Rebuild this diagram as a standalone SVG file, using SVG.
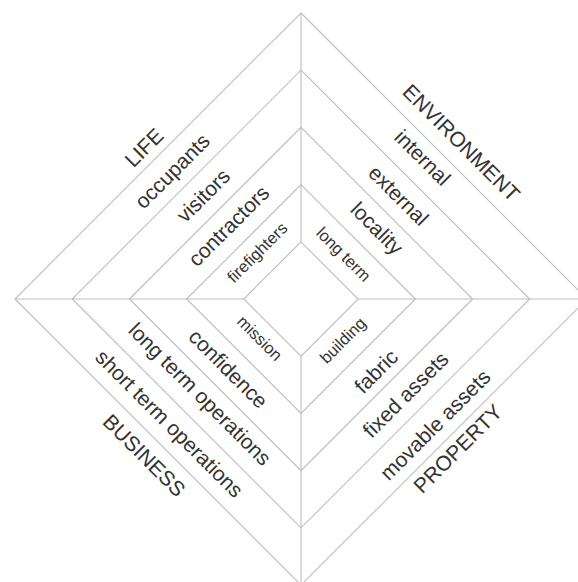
<svg xmlns="http://www.w3.org/2000/svg" width="578" height="582" viewBox="0 0 578 582">
<style>
.ln{fill:none;stroke:#bdbdbd;stroke-width:1.1}
text{font-family:"Liberation Sans",Arial,sans-serif;fill:#333;text-anchor:middle}
.b{font-size:21px}
.s{font-size:16.5px}
.c{font-size:21px}
</style>
<rect width="578" height="582" fill="#fff"/>
<g id="connectors">
<polygon class="ln" points="301,241.8 358.2,299 301,356.2 243.8,299"/>
<polygon class="ln" points="301,184.6 415.4,299 301,413.4 186.6,299"/>
<polygon class="ln" points="301,127.4 472.6,299 301,470.6 129.4,299"/>
<polygon class="ln" points="301,70.2 529.8,299 301,527.8 72.2,299"/>
<polygon class="ln" points="301,13 587,299 301,585 15,299"/>
<line class="ln" x1="301" y1="13" x2="301" y2="241.8"/>
<line class="ln" x1="301" y1="356.2" x2="301" y2="582"/>
<line class="ln" x1="15" y1="299" x2="243.8" y2="299"/>
<line class="ln" x1="358.2" y1="299" x2="578" y2="299"/>
</g>
<g id="life">
<g id="n-life" transform="translate(143.8,147.4) rotate(-45)"><text class="c" dy="0.36em">LIFE</text></g>
<g id="n-occupants" transform="translate(173.2,172.1) rotate(-45)"><text class="b" dy="0.28em">occupants</text></g>
<g id="n-visitors" transform="translate(203.1,195.4) rotate(-45)"><text class="b" dy="0.36em">visitors</text></g>
<g id="n-contractors" transform="translate(228.5,225.6) rotate(-45)"><text class="b" dy="0.36em">contractors</text></g>
<g id="n-firefighters" transform="translate(258,253.2) rotate(-45)"><text class="s" dy="0.28em">firefighters</text></g>
</g>
<g id="environment">
<g id="n-environment" transform="translate(461.5,142.6) rotate(45)"><text class="c" dy="0.36em">ENVIRONMENT</text></g>
<g id="n-internal" transform="translate(422.8,157.4) rotate(45)"><text class="b" dy="0.36em">internal</text></g>
<g id="n-external" transform="translate(398.8,195.4) rotate(45)"><text class="b" dy="0.36em">external</text></g>
<g id="n-locality" transform="translate(376,229.3) rotate(45)"><text class="b" dy="0.28em">locality</text></g>
<g id="n-longterm" transform="translate(342.8,255.1) rotate(45)"><text class="s" dy="0.28em">long term</text></g>
</g>
<g id="business">
<g id="n-mission" transform="translate(259.9,338) rotate(45)"><text class="s" dy="0.36em">mission</text></g>
<g id="n-confidence" transform="translate(228.5,368.6) rotate(45)"><text class="b" dy="0.36em">confidence</text></g>
<g id="n-lto" transform="translate(199,395.1) rotate(45)"><text class="b" dy="0.28em">long term operations</text></g>
<g id="n-sto" transform="translate(168.4,424.6) rotate(45)"><text class="b" dy="0.28em">short term operations</text></g>
<g id="n-business" transform="translate(144.5,455.2) rotate(45)"><text class="c" dy="0.36em">BUSINESS</text></g>
</g>
<g id="property">
<g id="n-building" transform="translate(343.5,341) rotate(-45)"><text class="s" dy="0.28em">building</text></g>
<g id="n-fabric" transform="translate(376,371.2) rotate(-45)"><text class="b" dy="0.36em">fabric</text></g>
<g id="n-fixed" transform="translate(405.4,394.4) rotate(-45)"><text class="b" dy="0.36em">fixed assets</text></g>
<g id="n-movable" transform="translate(435,424.6) rotate(-45)"><text class="b" dy="0.36em">movable assets</text></g>
<g id="n-property" transform="translate(458.9,449.7) rotate(-45)"><text class="c" dy="0.28em">PROPERTY</text></g>
</g>
</svg>
